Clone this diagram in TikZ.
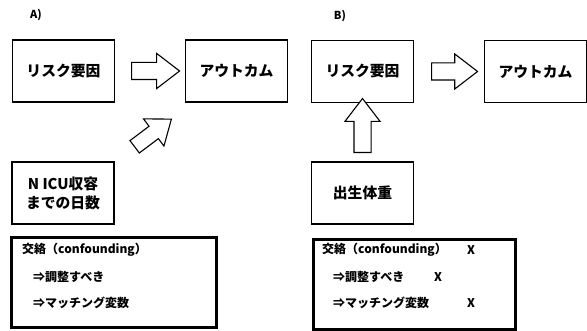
\documentclass[tikz,border=0pt]{standalone}
\usepackage{fontspec}
\setmainfont{Noto Sans CJK JP}
\usetikzlibrary{shapes.arrows,calc}
\begin{document}
\begin{tikzpicture}[x=1pt,y=-1pt,
  box/.style={draw=black, line width=1.2pt, minimum width=102pt, minimum height=62pt,
    inner sep=0pt, font=\bfseries\fontsize{14.8}{19}\selectfont, align=center},
  thickbox/.style={draw=black, line width=3pt, minimum width=205pt, minimum height=90pt, inner sep=0pt},
  line/.style={anchor=west, inner sep=0pt, font=\bfseries\fontsize{12}{14}\selectfont},
  lbl/.style={inner sep=0pt, font=\bfseries\fontsize{11}{13}\selectfont},
  blockarrow/.style={draw=black, line width=1.1pt, fill=white, single arrow,
    single arrow tip angle=75, single arrow head extend=9pt,
    minimum width=34pt, inner sep=0pt, inner ysep=8pt}
]
\useasboundingbox (0,0) rectangle (587,331);

% Panel A
\node[lbl] (la) at (36,15) {A)};
\node[box] (a1) at (63.5,71) {リスク要因};
\node[box] (a2) at (236.5,71) {アウトカム};
\node[box] (a3) at (63,193) {N ICU収容\\までの日数};
\node[blockarrow, minimum height=48pt] (aa1) at ($(a1.east)!0.5!(a2.west)$) {};
\coordinate (ad) at (149,136);
\node[blockarrow, minimum height=46pt, inner ysep=7pt, rotate=37] (aa2) at (ad) {};
\node[thickbox] (ta) at (114,282.5) {};
\node[line] (ta1) at (22,250) {交絡（confounding）};
\node[line] (ta2) at (33,277) {⇒調整すべき};
\node[line] (ta3) at (33,303) {⇒マッチング変数};

% Panel B
\node[lbl] (lb) at (340,16) {B)};
\node[box] (b1) at (362.5,71.5) {リスク要因};
\node[box] (b2) at (535.5,71.5) {アウトカム};
\node[box] (b3) at (362.5,193) {出生体重};
\node[blockarrow, minimum height=46pt] (ba1) at ($(b1.east)!0.5!(b2.west)$) {};
\node[blockarrow, minimum height=54pt, rotate=90] (ba2) at ($(b1.south)!0.48!(b3.north)$) {};
\node[thickbox, minimum width=202pt] (tb) at (414.5,284.5) {};
\node[line] (tb1) at (322,250) {交絡（confounding）};
\node[line] (tb2) at (333,277) {⇒調整すべき};
\node[line] (tb3) at (333,303) {⇒マッチング変数};
\node[line] (tbx1) at (467,250) {X};
\node[line] (tbx2) at (434,277) {X};
\node[line] (tbx3) at (467,303) {X};
\end{tikzpicture}
\end{document}
